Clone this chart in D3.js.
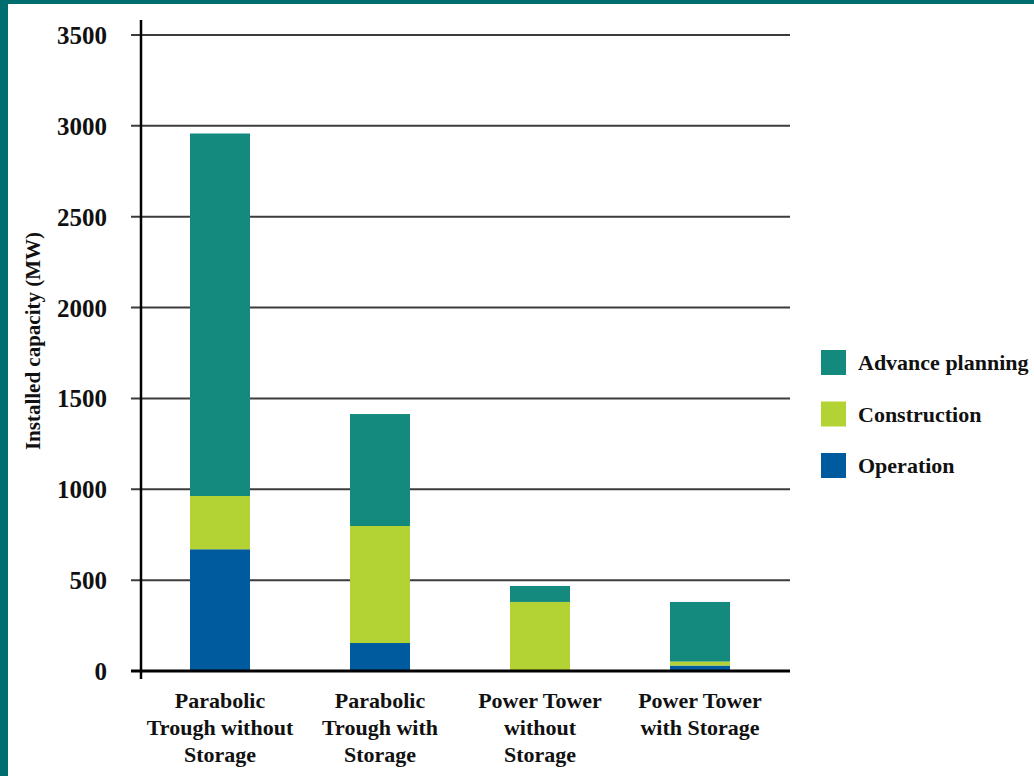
<!DOCTYPE html>
<html>
<head>
<meta charset="utf-8">
<script src="https://cdn.jsdelivr.net/npm/d3@7"></script>
<style>
  html, body { margin: 0; padding: 0; background: #fff; }
  svg text { font-family: "Liberation Serif", "Times New Roman", serif; font-weight: bold; fill: #111; }
</style>
</head>
<body>
<svg id="chart" width="1034" height="776"></svg>
<script>
const categories = [
  ["Parabolic", "Trough without", "Storage"],
  ["Parabolic", "Trough with", "Storage"],
  ["Power Tower", "without", "Storage"],
  ["Power Tower", "with Storage"]
];
const seriesNames = ["Operation", "Construction", "Advance planning"];
const operation = [670, 154, 0, 30];
const construction = [293, 644, 380, 22];
const advancePlanning = [1995, 616, 88, 328];
const yTicks = [0, 500, 1000, 1500, 2000, 2500, 3000, 3500];
const colors = ["#005b9e", "#b3d335", "#148a7e"];

const svg = d3.select("#chart");
const W = 1034, H = 776;

// teal frame
svg.append("rect").attr("x", 0).attr("y", 0).attr("width", W).attr("height", H).attr("fill", "#006e6e");
svg.append("rect").attr("x", 8).attr("y", 4).attr("width", W - 8).attr("height", H - 4).attr("fill", "#ffffff");

const x0 = 140, x1 = 780, yTop = 35, yBot = 671;
const x = d3.scaleBand().domain(d3.range(categories.length)).range([x0, x1]).paddingInner(0.625).paddingOuter(0.3125);
const y = d3.scaleLinear().domain([0, 3500]).range([yBot, yTop]);

// gridlines
svg.append("g").selectAll("line").data(yTicks.filter(d => d > 0)).join("line")
  .attr("x1", 131).attr("x2", 790)
  .attr("y1", d => y(d)).attr("y2", d => y(d))
  .attr("stroke", "#3c3c3c").attr("stroke-width", 2);

// stacked data
const table = categories.map((c, i) => ({
  i, "Operation": operation[i], "Construction": construction[i], "Advance planning": advancePlanning[i]
}));
const stack = d3.stack().keys(seriesNames)(table);

svg.append("g").selectAll("g").data(stack).join("g")
  .attr("fill", (d, k) => colors[k])
  .selectAll("rect").data(d => d).join("rect")
  .attr("x", d => x(d.data.i))
  .attr("width", x.bandwidth())
  .attr("y", d => y(d[1]))
  .attr("height", d => Math.max(0, y(d[0]) - y(d[1])));

// axes lines
svg.append("line").attr("x1", 131).attr("x2", 790).attr("y1", y(0)).attr("y2", y(0))
  .attr("stroke", "#000").attr("stroke-width", 3);
svg.append("line").attr("x1", 141).attr("x2", 141).attr("y1", 20).attr("y2", 679)
  .attr("stroke", "#000").attr("stroke-width", 2.5);

// y tick labels
const yAxis = d3.axisLeft(y).tickValues(yTicks).tickFormat(d3.format("d")).tickSize(0).tickPadding(0);
const gy = svg.append("g").attr("transform", "translate(107,0)").call(yAxis);
gy.select(".domain").remove();
gy.selectAll("text").style("font-size", "25px").attr("dy", "0.34em");

// y label
svg.append("text")
  .attr("transform", "translate(40,341) rotate(-90)")
  .attr("text-anchor", "middle")
  .style("font-size", "21px")
  .text("Installed capacity (MW)");

// category labels
const cat = svg.append("g").selectAll("text").data(categories).join("text")
  .attr("text-anchor", "middle")
  .style("font-size", "22px")
  .attr("x", (d, i) => x(i) + x.bandwidth() / 2)
  .attr("y", 708);
cat.selectAll("tspan").data(d => d).join("tspan")
  .attr("x", function () { return d3.select(this.parentNode).attr("x"); })
  .attr("dy", (d, j) => j === 0 ? 0 : 27)
  .text(d => d);

// legend
const legendItems = seriesNames.slice().reverse();
const lg = svg.append("g").selectAll("g").data(legendItems).join("g")
  .attr("transform", (d, i) => `translate(821,${350 + i * 51.5})`);
lg.append("rect").attr("width", 25).attr("height", 25)
  .attr("fill", d => colors[seriesNames.indexOf(d)]);
lg.append("text").attr("x", 37).attr("y", 12.5).attr("dy", "0.35em")
  .style("font-size", "22px").text(d => d);
</script>
</body>
</html>
